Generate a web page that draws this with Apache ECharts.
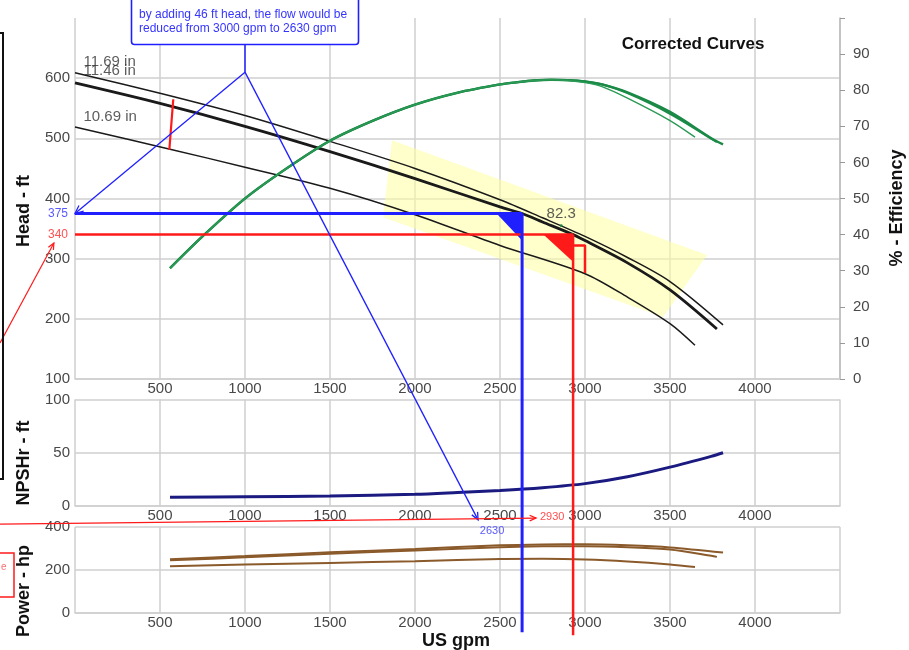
<!DOCTYPE html>
<html><head><meta charset="utf-8">
<script src="https://cdn.jsdelivr.net/npm/echarts/dist/echarts.min.js"></script>
<style>html,body{margin:0;padding:0;background:#fff}#c{width:909px;height:650px}</style>
</head><body><div id="c"></div>
<script>
// ---------- DATA ----------
const headGpm1169 = [0, 500, 1000, 1500, 2000, 2500, 2750, 3000, 3250, 3500, 3812];
const head1169    = [609, 575, 538, 495, 450, 398, 368, 337, 302, 262, 190];
const headGpm1146 = [0, 500, 1000, 1500, 2000, 2500, 2630, 2750, 2930, 3000, 3250, 3500, 3776];
const head1146    = [592, 558, 520, 478, 433, 386, 375, 361, 340, 330, 293, 248, 183];
const headGpm1069 = [0, 559, 1000, 1500, 2000, 2500, 3000, 3250, 3500, 3647];
const head1069    = [519, 482, 452, 417, 373, 322, 275, 236, 192, 156];

const effGpm1169 = [559, 750, 1000, 1250, 1500, 1750, 2000, 2250, 2500, 2600, 2700, 2800, 2900, 3000, 3100, 3250, 3500, 3750, 3812];
const eff1169    = [30.7, 39.5, 50, 58.5, 66, 71.5, 76, 79.3, 81.6, 82.2, 82.7, 82.9, 82.8, 82.4, 81.6, 79.4, 74, 66.5, 65];
const effGpm1146 = [559, 750, 1000, 1250, 1500, 1750, 2000, 2250, 2500, 2600, 2700, 2800, 2900, 3000, 3100, 3250, 3500, 3776];
const eff1146    = [30.7, 39.5, 50, 58.5, 66, 71.5, 76, 79.3, 81.6, 82.2, 82.7, 82.9, 82.8, 82.4, 81.6, 79.2, 73.5, 65.6];
const effGpm1069 = [559, 750, 1000, 1250, 1500, 1750, 2000, 2250, 2500, 2600, 2700, 2800, 2900, 3000, 3100, 3250, 3500, 3647];
const eff1069    = [30.7, 39.5, 50, 58.5, 66, 71.5, 76, 79.3, 81.6, 82.2, 82.7, 82.9, 82.7, 82.1, 81, 77.8, 71.6, 67];

const npshGpm = [559, 1000, 1500, 2000, 2250, 2500, 2750, 3000, 3250, 3500, 3750, 3812];
const npsh    = [8.2, 8.7, 9.3, 11, 12.7, 14.6, 17.2, 21, 27.5, 36.5, 47, 50];

const powGpm1169 = [559, 1000, 1500, 2000, 2500, 2750, 3000, 3250, 3500, 3812];
const pow1169    = [250, 265, 282, 298, 315, 319, 320, 315, 305, 281];
const powGpm1146 = [559, 1000, 1500, 2000, 2500, 2750, 3000, 3250, 3500, 3776];
const pow1146    = [245, 259, 276, 291, 306, 310, 311, 306, 295, 261];
const powGpm1069 = [559, 1000, 1500, 2000, 2500, 2750, 3000, 3250, 3500, 3647];
const pow1069    = [218, 226, 233, 241, 251, 252, 249, 240, 226, 214];

const xTicks = [500, 1000, 1500, 2000, 2500, 3000, 3500, 4000];

const yellowZone = [[1865, 497], [3718, 306], [3459, 203], [1812, 369]];
const blueTri = [[2480, 375], [2630, 375], [2630, 330]];
const redTri  = [[2755, 340], [2930, 340], [2930, 295]];
const blueFlow = 2630, blueHead = 375;
const redFlow = 2930, redHead = 340;
const redBracket = [[2930, 322], [3000, 322], [3000, 276]];
const redTrim = [[578, 565], [555, 481]];
const bepPoint = [[2860, 355, '82.3']];
const curveLabels = [[47, 627, '11.69 in'], [47, 612, '11.46 in'], [47, 535, '10.69 in']];
const noteLines = ['by adding 46 ft head, the flow would be', 'reduced from 3000 gpm to 2630 gpm'];

// ---------- CHART ----------
const FONT = '"Liberation Sans", Arial, sans-serif';
const GRIDC = '#cfcfcf';
const chart = echarts.init(document.getElementById('c'), null, {renderer: 'canvas'});

function xAx(gi) {
  return {type: 'value', gridIndex: gi, min: 0, max: 4500, interval: 500,
    axisLine: {show: true, lineStyle: {color: GRIDC, width: 1.5}}, axisTick: {show: false},
    axisLabel: {margin: 2, color: '#484848', fontSize: 15, fontFamily: FONT,
      formatter: v => xTicks.indexOf(v) >= 0 ? String(v) : ''},
    splitLine: {show: true, lineStyle: {color: GRIDC, width: 1.5}}};
}
function yAx(gi, min, max, iv, hideMax) {
  return {type: 'value', gridIndex: gi, min, max, interval: iv,
    axisLine: {show: false}, axisTick: {show: false},
    axisLabel: {margin: 5, color: '#484848', fontSize: 15, fontFamily: FONT,
      formatter: v => (hideMax && v === max) ? '' : String(v)},
    splitLine: {show: true, showMaxLine: !hideMax, lineStyle: {color: GRIDC, width: 1.5}}};
}
function lineS(xs, ys, color, width, xi, yi, z, smooth) {
  return {type: 'line', xAxisIndex: xi, yAxisIndex: yi, data: xs.map((x, i) => [x, ys[i]]),
    smooth: smooth === undefined ? 0.3 : smooth, symbol: 'none', showSymbol: false,
    lineStyle: {color, width}, z: z || 3, silent: true, animation: false};
}
function ptsS(pts, color, width, z) {
  return {type: 'line', xAxisIndex: 0, yAxisIndex: 0, data: pts, smooth: false, symbol: 'none',
    lineStyle: {color, width}, z: z || 5, silent: true, animation: false};
}
function polyS(pts, fill, z) {
  return {type: 'custom', xAxisIndex: 0, yAxisIndex: 0, z, silent: true, data: [[0, 0]], animation: false,
    renderItem: (params, api) => ({type: 'polygon', shape: {points: pts.map(p => api.coord(p))}, style: {fill}})};
}

const series = [
  polyS(yellowZone, 'rgba(255,255,160,0.55)', 1),                     // 0
  lineS(headGpm1169, head1169, '#1a1a1a', 1.5, 0, 0),                 // 1
  lineS(headGpm1146, head1146, '#1a1a1a', 2.8, 0, 0),                 // 2
  lineS(headGpm1069, head1069, '#1a1a1a', 1.5, 0, 0),                 // 3
  lineS(effGpm1169, eff1169, '#1b8a47', 2.4, 0, 1, 3, 0.3),           // 4
  lineS(effGpm1146, eff1146, '#1b8a47', 2.2, 0, 1, 3, 0.3),           // 5
  lineS(effGpm1069, eff1069, '#2a9a55', 1.4, 0, 1, 3, 0.3),           // 6
  lineS(npshGpm, npsh, '#1a1a80', 3, 1, 2),                           // 7
  lineS(powGpm1169, pow1169, '#8b5a2b', 2, 2, 3),                     // 8
  lineS(powGpm1146, pow1146, '#8b5a2b', 2, 2, 3),                     // 9
  lineS(powGpm1069, pow1069, '#8b5a2b', 2, 2, 3),                     // 10
  ptsS([[0, blueHead], [blueFlow, blueHead]], '#1f1fff', 3, 6),
  ptsS([[0, redHead], [redFlow, redHead]], '#ff1a1a', 2.5, 6),
  ptsS(redBracket, '#ff1a1a', 2.5, 6),
  ptsS(redTrim, '#ff1a1a', 2.2, 6),
  polyS(blueTri, '#1f1fff', 6),
  polyS(redTri, '#ff1a1a', 6),
  {type: 'scatter', xAxisIndex: 0, yAxisIndex: 0, data: curveLabels, symbolSize: 1, silent: true,
    itemStyle: {color: 'rgba(0,0,0,0)'}, z: 7,
    label: {show: true, position: 'right', distance: 0, formatter: p => p.data[2], color: '#333', fontSize: 15, fontFamily: FONT}},
  {type: 'scatter', xAxisIndex: 0, yAxisIndex: 0, data: bepPoint, symbolSize: 3, silent: true,
    itemStyle: {color: '#1b8a47'}, z: 7,
    label: {show: true, position: 'top', distance: 3, formatter: p => p.data[2], color: '#333', fontSize: 15, fontFamily: FONT}}
];

chart.setOption({
  animation: false,
  backgroundColor: '#fff',
  grid: [
    {left: 75, top: 18, width: 765, height: 361},
    {left: 75, top: 399.5, width: 765, height: 106.5},
    {left: 75, top: 527, width: 765, height: 86}
  ],
  xAxis: [xAx(0), xAx(1), xAx(2)],
  yAxis: [
    yAx(0, 100, 700, 100, true),
    {type: 'value', gridIndex: 0, position: 'right', min: 0, max: 100, interval: 10,
      axisLine: {show: true, lineStyle: {color: '#bdbdbd', width: 1.5}},
      axisTick: {show: true, length: 5, lineStyle: {color: '#999'}},
      axisLabel: {margin: 13, color: '#484848', fontSize: 15, fontFamily: FONT, formatter: v => v === 100 ? '' : String(v)},
      splitLine: {show: false}},
    yAx(1, 0, 100, 50, false),
    yAx(2, 0, 400, 200, false)
  ],
  series
});

// ---------- ANNOTATIONS (positions through the chart's scales) ----------
const pH = (x, y) => chart.convertToPixel({seriesIndex: 1}, [x, y]);
const pN = (x, y) => chart.convertToPixel({seriesIndex: 7}, [x, y]);
const pP = (x, y) => chart.convertToPixel({seriesIndex: 8}, [x, y]);
const g = [];
function seg(p, q, color, w) { g.push({type: 'line', z: 100, silent: true, shape: {x1: p[0], y1: p[1], x2: q[0], y2: q[1]}, style: {stroke: color, lineWidth: w}}); }
function head(p, q, color, w, s) {
  const a = Math.atan2(q[1] - p[1], q[0] - p[0]); s = s || 8; const sp = 0.42;
  const l = [q[0] - s * Math.cos(a - sp), q[1] - s * Math.sin(a - sp)];
  const r = [q[0] - s * Math.cos(a + sp), q[1] - s * Math.sin(a + sp)];
  g.push({type: 'polyline', z: 100, silent: true, shape: {points: [l, q, r]}, style: {stroke: color, lineWidth: w, fill: null}});
}
function txt(x, y, text, font, fill, align, rot) {
  g.push({type: 'text', z: 101, silent: true, x, y, rotation: rot || 0,
    style: {text, font, fill, align: align || 'center', verticalAlign: 'middle', textAlign: align || 'center', textVerticalAlign: 'middle'}});
}
const BLUE = '#2020ff', RED = '#ff1a1a';

// note box (anchored at 1000 gpm)
const hub = pH(1000, 610), boxB = pH(1000, 656);
g.push({type: 'rect', z: 100, silent: true, shape: {x: hub[0] - 113.5, y: -4, width: 227, height: boxB[1] + 4, r: 3},
  style: {fill: '#fff', stroke: BLUE, lineWidth: 1.6}});
txt(hub[0] - 106, 15, noteLines[0], '12px ' + FONT, '#3535ff', 'left');
txt(hub[0] - 106, 29, noteLines[1], '12px ' + FONT, '#3535ff', 'left');
seg(boxB, hub, BLUE, 1.5);
const a375 = pH(0, blueHead);
seg(hub, a375, BLUE, 1.3); head(hub, a375, BLUE, 1.3, 9);
const aLow = pN(2371, -13);
seg(hub, aLow, BLUE, 1.3); head(hub, aLow, BLUE, 1.3, 8);
const lbl2630 = pN(2453, -23.5);
txt(lbl2630[0], lbl2630[1], String(blueFlow), '11px ' + FONT, '#5a5aff', 'center');
txt(a375[0] - 7, a375[1], String(blueHead), '12px ' + FONT, '#5a5aff', 'right');
seg(pH(blueFlow, blueHead), pP(blueFlow, -90), BLUE, 3);

// red
seg(pH(redFlow, redHead), pP(redFlow, -104), RED, 2.5);
const r340 = pH(0, redHead);
txt(r340[0] - 7, r340[1], String(redHead), '12px ' + FONT, '#ff5050', 'right');
const rA0 = pH(-441, 160), rA1 = pH(-124, 326);
seg(rA0, rA1, RED, 1.2); head(rA0, rA1, RED, 1.2, 7);
const rB0 = pN(-441, -17), rB1 = pN(2712, -11.3);
seg(rB0, rB1, RED, 1.3); head(rB0, rB1, RED, 1.3, 7);
const l2930 = pN(2735, -10);
txt(l2930[0], l2930[1], String(redFlow), '11px ' + FONT, '#ff5050', 'left');

// clipped boxes at left edge
g.push({type: 'rect', z: 100, silent: true, shape: {x: -60, y: 33, width: 63, height: 446}, style: {fill: null, stroke: '#111', lineWidth: 2}});
g.push({type: 'rect', z: 100, silent: true, shape: {x: -60, y: 553, width: 74, height: 44}, style: {fill: null, stroke: RED, lineWidth: 1.5}});
txt(1, 567, 'e', '10px ' + FONT, '#ff7070', 'left');

// titles
txt(693, 44, 'Corrected Curves', 'bold 17px ' + FONT, '#111', 'center');
txt(24, 211, 'Head - ft', 'bold 18px ' + FONT, '#111', 'center', Math.PI / 2);
txt(24, 463, 'NPSHr - ft', 'bold 18px ' + FONT, '#111', 'center', Math.PI / 2);
txt(24, 591, 'Power - hp', 'bold 18px ' + FONT, '#111', 'center', Math.PI / 2);
txt(897, 208, '% - Efficiency', 'bold 18px ' + FONT, '#111', 'center', Math.PI / 2);
txt(456, 641, 'US gpm', 'bold 18px ' + FONT, '#111', 'center');

chart.setOption({graphic: {elements: g}});
</script></body></html>
